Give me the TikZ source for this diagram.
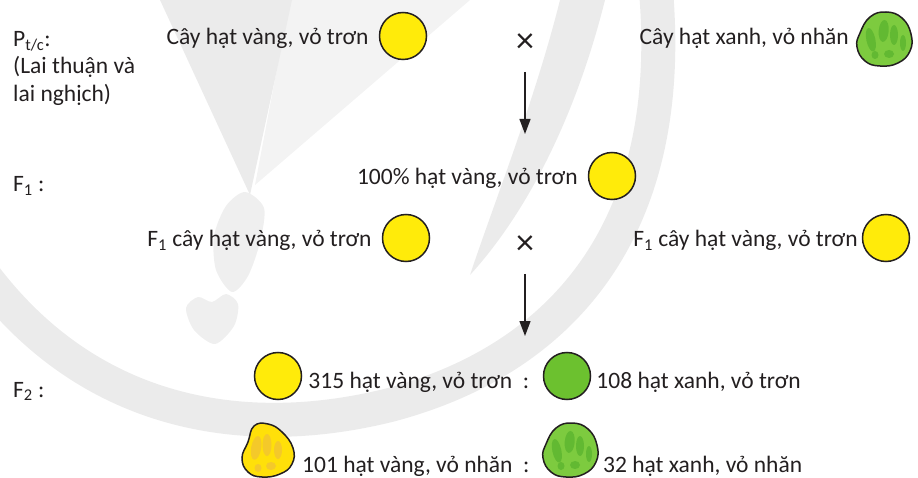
\documentclass[tikz,border=0pt]{standalone}
\usepackage{fontspec}
\setmainfont{Carlito}
\usetikzlibrary{positioning,arrows.meta}
\definecolor{ink}{HTML}{231F20}
\definecolor{vang}{HTML}{FFEB0A}
\definecolor{camnhat}{HTML}{F4C92A}
\definecolor{xanh}{HTML}{6CC12F}
\definecolor{xanhnhat}{HTML}{7DCB3F}
\definecolor{xanhdam}{HTML}{62B932}
\definecolor{mo}{HTML}{EBEBEB}
\tikzset{
  txt/.style={text=ink,inner sep=0pt,font=\fontsize{23.5}{26}\selectfont,text height=22pt,text depth=4pt},
  nhan/.style={text=ink,inner sep=0pt,font=\fontsize{23.5}{27.5}\selectfont,align=left},
  dau/.style={text=ink,inner sep=0pt,font=\fontsize{36}{36}\selectfont},
  hat/.style={circle,draw=ink,line width=1.5pt,fill=#1,minimum size=47pt,inner sep=0pt},
  muiten/.style={draw=ink,line width=1.3pt,-{Triangle[length=15pt,width=11pt]}},
  pics/hatxanhnhan/.style={code={
    \draw[line width=1.5pt,draw=ink,fill=xanhnhat] plot[smooth cycle,tension=.75] coordinates
      {(-24,-6) (-14,-22) (2,-27) (18,-21) (27,-5) (26,12) (14,24) (-4,27) (-19,22) (-27,8)};
    \fill[xanhdam,rotate=12] (-13,-2) ellipse (4.5pt and 12pt);
    \fill[xanhdam,rotate=-5] (-1,-8) ellipse (5pt and 11pt);
    \fill[xanhdam] (10,-4) ellipse (4pt and 10pt);
    \fill[xanhdam] (19,4) ellipse (3pt and 8pt);
    \fill[xanhdam] (5,15) ellipse (5pt and 4pt);
    \fill[xanhdam] (-9,16) ellipse (3.5pt and 4pt);
  }},
  pics/hatvangnhan/.style={code={
    \draw[line width=1.5pt,draw=ink,fill=vang!90!orange] plot[smooth cycle,tension=.75] coordinates
      {(-14,-24) (0,-26) (14,-18) (25,-2) (24,14) (12,24) (-6,27) (-20,22) (-26,8) (-20,-8)};
    \fill[camnhat,rotate=-10] (-12,0) ellipse (5pt and 12pt);
    \fill[camnhat] (-1,-5) ellipse (4.5pt and 11pt);
    \fill[camnhat] (10,0) ellipse (4pt and 9pt);
    \fill[camnhat] (3,16) ellipse (5pt and 4pt);
    \fill[camnhat] (-10,18) ellipse (3.5pt and 4pt);
  }}
}
\begin{document}
\begin{tikzpicture}[x=1pt,y=-1pt]
\useasboundingbox (0,0) rectangle (918,478);
% mờ phía sau
\fill[mo!60] (290,0) -- (470,0) -- (255,185) -- cycle;
\fill[mo] (160,0) -- (292,0) -- (250,195) -- cycle;
\fill[mo] (560,0) -- (605,0) .. controls (575,120) and (525,215) .. (470,275)
  .. controls (495,200) and (535,100) .. cycle;
\draw[mo,line width=34pt] (-20,270) .. controls (90,420) and (250,440) .. (390,405)
  .. controls (560,360) and (680,230) .. (655,-20);
\fill[mo!80] plot[smooth cycle] coordinates {(245,192) (264,208) (260,242) (248,276) (232,292) (216,270) (214,236) (226,206)};
\fill[mo!80] plot[smooth cycle] coordinates {(212,302) (226,294) (238,304) (234,326) (215,344) (194,330) (186,308) (198,297)};

% P
\node[nhan,anchor=north west] (gen) at (13,31) {P\textsubscript{t/c}:\\(Lai thuận và\\lai nghịch)};
\node[hat=vang] (p1) at (403,36) {};
\node[txt,left=10pt of p1] (tp1) {Cây hạt vàng, vỏ trơn};
\node[dau] (x1) at (525,43) {×};
\pic (p2) at (884,39) {hatxanhnhan};
\node[txt,anchor=east] (tp2) at (849,36) {Cây hạt xanh, vỏ nhăn};
\coordinate (a1) at (525,72);
\coordinate (b1) at (525,134);
\draw[muiten] (a1) -- (b1);

% F1
\node[txt,anchor=base west] (gf1) at (13,192) {F\textsubscript{1}~:};
\node[hat=vang] (f1) at (612,176) {};
\node[txt,left=10pt of f1] (tf1) {100\% hạt vàng, vỏ trơn};
\node[hat=vang] (f1a) at (406,238) {};
\node[txt,left=10pt of f1a] (tf1a) {F\textsubscript{1} cây hạt vàng, vỏ trơn};
\node[dau] (x2) at (525,245) {×};
\node[hat=vang] (f1b) at (886,238) {};
\node[txt,left=4pt of f1b] (tf1b) {F\textsubscript{1} cây hạt vàng, vỏ trơn};
\coordinate (a2) at (525,274);
\coordinate (b2) at (525,336);
\draw[muiten] (a2) -- (b2);

% F2
\node[txt,anchor=base west] (gf2) at (13,397) {F\textsubscript{2}~:};
\node[hat=vang] (g1) at (278,376) {};
\node[txt,right=6pt of g1,yshift=-3pt] (tg1) {315 hạt vàng, vỏ trơn~~:};
\node[hat=xanh] (g2) at (567,376) {};
\node[txt,right=5pt of g2,yshift=-3pt] (tg2) {108 hạt xanh, vỏ trơn};
\pic (g3) at (268,450) {hatvangnhan};
\node[txt,anchor=west] (tg3) at (302,463) {101 hạt vàng, vỏ nhăn~~:};
\pic (g4) at (570,450) {hatxanhnhan};
\node[txt,anchor=west] (tg4) at (603,463) {32 hạt xanh, vỏ nhăn};
\end{tikzpicture}
\end{document}
